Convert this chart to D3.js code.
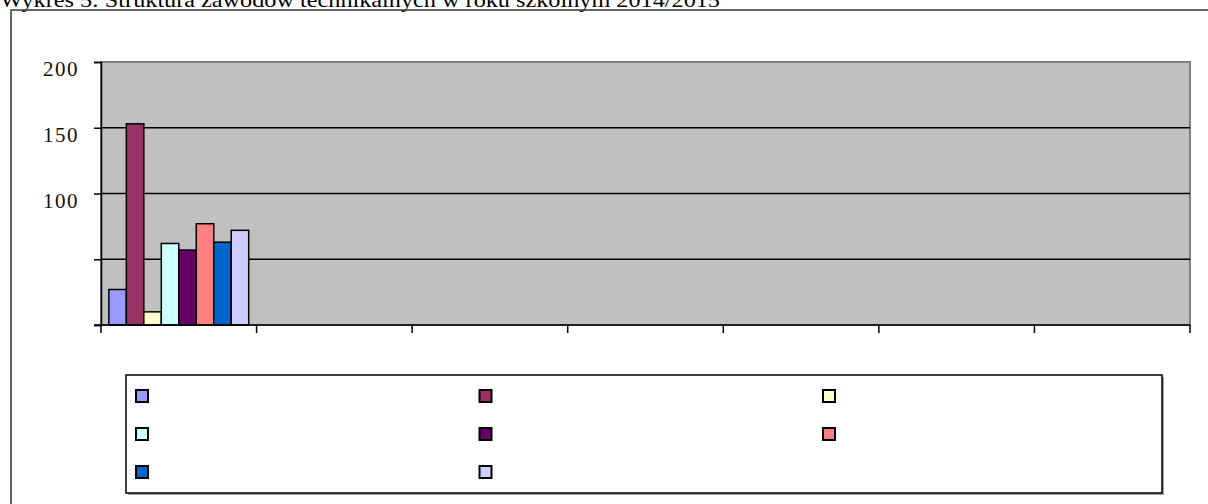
<!DOCTYPE html>
<html>
<head>
<meta charset="utf-8">
<script src="https://cdn.jsdelivr.net/npm/d3@7"></script>
<style>
  body { margin: 0; background: #fff; }
  svg { display: block; }
</style>
</head>
<body>
<div id="chart"></div>
<script>
// Wykres 5 - only the first group carries bars, legend labels are unreadable
let categories = ["k1", "k2", "k3", "k4", "k5", "k6", "k7"];
let seriesNames = ["s1", "s2", "s3", "s4", "s5", "s6", "s7", "s8"];
let seriesColors = ["#9999FF", "#993366", "#FFFFCC", "#CCFFFF",
                    "#660066", "#FF8080", "#0066CC", "#CCCCFF"];
let firstGroupValues = [27, 153, 10, 62, 57, 77, 63, 72];
let yTicks = [0, 50, 100, 150, 200];
let yTickLabels = ["", "", "100", "150", "200"];

let W = 1208, H = 504;
let margin = {top: 62, right: 18, bottom: 179, left: 101};
let width = W - margin.left - margin.right,
    height = H - margin.top - margin.bottom;
let serif = "'Liberation Serif', 'Times New Roman', serif";

let svg = d3.select("#chart").append("svg")
    .attr("width", W)
    .attr("height", H);

// title, clipped at the top like the original
svg.append("text")
    .attr("x", 0)
    .attr("y", 7)
    .attr("textLength", 720)
    .attr("lengthAdjust", "spacingAndGlyphs")
    .style("font-family", serif)
    .style("font-size", "22px")
    .text("Wykres 5: Struktura zawodów technikalnych w roku szkolnym 2014/2015");

// outer chart frame
svg.append("rect")
    .attr("x", 11).attr("y", 10)
    .attr("width", W + 20).attr("height", H + 20)
    .attr("fill", "none")
    .attr("stroke", "#333")
    .attr("stroke-width", 1.5);

let g = svg.append("g")
    .attr("transform", "translate(" + margin.left + "," + margin.top + ")");

let x = d3.scaleBand().domain(categories).range([0, width]);
let xs = d3.scaleBand().domain(seriesNames)
    .range([0, x.bandwidth()]).paddingOuter(0.45);
let y = d3.scaleLinear().domain([0, 200]).range([height, 0]);

// plot area
g.append("rect")
    .attr("x", 0).attr("y", 0)
    .attr("width", width).attr("height", height)
    .attr("fill", "#C0C0C0")
    .attr("stroke", "#808080")
    .attr("stroke-width", 2);

// gridlines
g.selectAll(".grid")
    .data(yTicks.slice(1, 4))
    .enter().append("line")
    .attr("x1", 0).attr("x2", width)
    .attr("y1", d => y(d)).attr("y2", d => y(d))
    .attr("stroke", "#000")
    .attr("stroke-width", 1.5);

// bars of the first category
let barData = firstGroupValues.map((v, i) => ({cat: categories[0], s: seriesNames[i], v: v, c: seriesColors[i]}));
g.selectAll(".bar")
    .data(barData)
    .enter().append("rect")
    .attr("class", "bar")
    .attr("x", d => x(d.cat) + xs(d.s))
    .attr("width", xs.bandwidth())
    .attr("y", d => y(d.v))
    .attr("height", d => height - y(d.v))
    .attr("fill", d => d.c)
    .attr("stroke", "#000")
    .attr("stroke-width", 1.5);

// y axis
let yAxis = g.append("g")
    .call(d3.axisLeft(y).tickValues(yTicks).tickSize(7).tickPadding(15)
        .tickFormat((d, i) => yTickLabels[i]));
yAxis.select(".domain").attr("stroke", "#000").attr("stroke-width", 1.5);
yAxis.selectAll(".tick line").attr("stroke-width", 1.5);
yAxis.selectAll(".tick text")
    .attr("font-family", serif)
    .attr("font-size", 21)
    .attr("fill", "#111")
    .style("letter-spacing", "1.5px")
    .attr("dy", "0.66em");

// x axis, boundaries between categories
let xEdges = categories.map(c => x(c)).concat([width]);
let xAxis = g.append("g")
    .attr("transform", "translate(0," + height + ")");
xAxis.append("line")
    .attr("x1", -7).attr("x2", width)
    .attr("stroke", "#000").attr("stroke-width", 1.5);
xAxis.selectAll(".xt")
    .data(xEdges)
    .enter().append("line")
    .attr("x1", d => d).attr("x2", d => d)
    .attr("y1", 0).attr("y2", 8)
    .attr("stroke", "#000").attr("stroke-width", 1.5);

// legend
let lg = svg.append("g").attr("transform", "translate(126,375)");
lg.append("rect")
    .attr("x", 2).attr("y", 2).attr("width", 1036).attr("height", 118)
    .attr("fill", "#a0a0a0");
lg.append("rect")
    .attr("x", 0).attr("y", 0).attr("width", 1036).attr("height", 118)
    .attr("fill", "#fff").attr("stroke", "#000").attr("stroke-width", 1.5);
let colX = [16, 359.5, 703];
let rowY = [21, 59, 97];
lg.selectAll(".key")
    .data(seriesColors)
    .enter().append("rect")
    .attr("x", (d, i) => colX[i % 3] - 6)
    .attr("y", (d, i) => rowY[Math.floor(i / 3)] - 6)
    .attr("width", 12).attr("height", 12)
    .attr("fill", d => d)
    .attr("stroke", "#000").attr("stroke-width", 2);
</script>
</body>
</html>
